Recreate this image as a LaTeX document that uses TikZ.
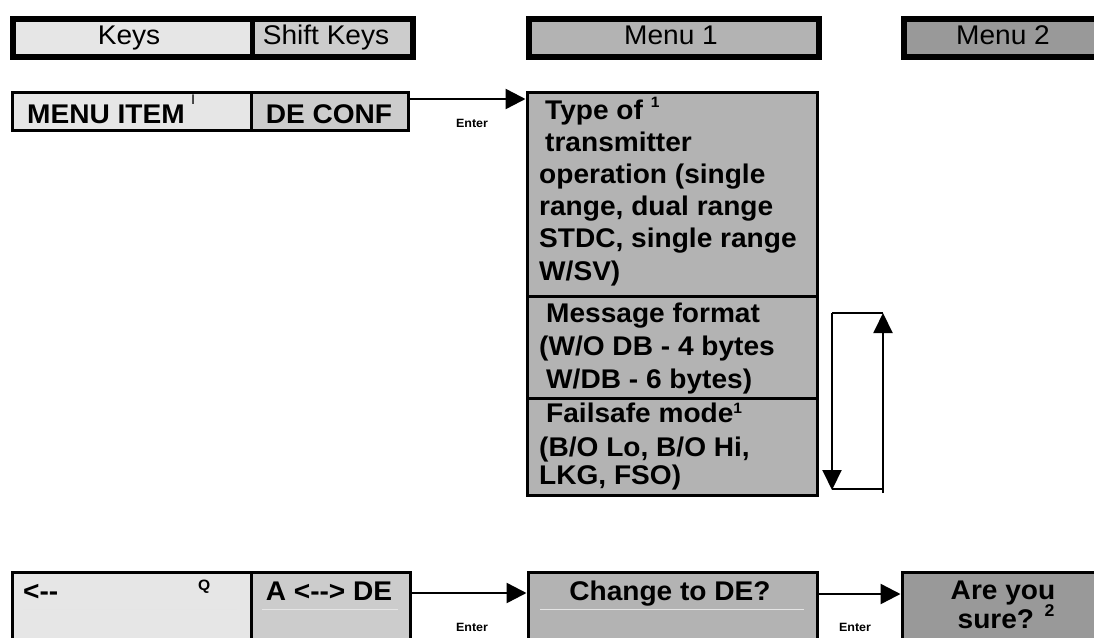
\documentclass[tikz,border=0pt]{standalone}
\usepackage{fontspec}
\setmainfont[FakeStretch=1.04]{Liberation Sans}
\usetikzlibrary{arrows.meta}
\definecolor{gA}{HTML}{E6E6E6}
\definecolor{gB}{HTML}{CCCCCC}
\definecolor{gC}{HTML}{B3B3B3}
\definecolor{gD}{HTML}{999999}
\newcommand\fmain{\fontsize{27}{30}\selectfont}
\newcommand\fenter{\fontsize{12}{14}\selectfont\bfseries}
\newcommand\fsupx{\fontsize{15}{16}\selectfont}
\begin{document}
\begin{tikzpicture}[x=1pt,y=-1pt,
  hdr/.style={draw=black, line width=5.5pt, minimum height=38pt, anchor=north west, inner sep=0pt},
  cell/.style={draw=black, line width=3pt, anchor=north west, inner sep=0pt},
  txt/.style={inner sep=0pt, text=black},
  arr/.style={line width=2.5pt, -{Triangle[length=20pt,width=20pt]}},
  loopline/.style={line width=2pt},
  looparr/.style={line width=2pt, -{Triangle[length=20pt,width=19pt]}},
  faint/.style={line width=0.8pt, draw=black!10}
]
\useasboundingbox (0,0) rectangle (1094,637);

% header row
\node[hdr, fill=gA, minimum width=239.5pt] (hkeys) at (10,16) {};
\node[hdr, fill=gB, minimum width=160.5pt] (hshift) at (249.5,16) {};
\node[hdr, fill=gC, minimum width=290pt] (hmenu1) at (526,16) {};
\node[hdr, fill=gD, minimum width=209pt] (hmenu2) at (901,16) {};
\node[txt, anchor=base] (tkeys) at (129,44) {\fmain Keys};
\node[txt, anchor=base] (tshift) at (326,44) {\fmain Shift Keys};
\node[txt, anchor=base] (tmenu1) at (671,44) {\fmain Menu 1};
\node[txt, anchor=base] (tmenu2) at (1003,44) {\fmain Menu 2};

% row 2
\node[cell, fill=gA, minimum width=239pt, minimum height=38pt] (menuitem) at (10.5,90.5) {};
\node[cell, fill=gB, minimum width=157pt, minimum height=38pt] (deconf) at (249.5,90.5) {};
\node[txt, anchor=base west] (tmenuitem) at (27,123) {\fmain\bfseries MENU ITEM};
\node[txt, anchor=base west] (tsupI) at (191,104) {\fontsize{14}{14}\selectfont I};
\node[txt, anchor=base] (tdeconf) at (329,123) {\fmain\bfseries DE CONF};

% menu 1 column
\node[cell, fill=gC, minimum width=290pt, minimum height=204.5pt] (typeof) at (525.5,90.5) {};
\node[cell, fill=gC, minimum width=290pt, minimum height=101.5pt] (msgfmt) at (525.5,295) {};
\node[cell, fill=gC, minimum width=290pt, minimum height=97pt] (failsafe) at (525.5,396.5) {};

\node[txt, anchor=base west] (l1) at (545,119) {\fmain\bfseries Type of \raisebox{12pt}{\fsupx 1}};
\node[txt, anchor=base west] (l2) at (545,151.2) {\fmain\bfseries transmitter};
\node[txt, anchor=base west] (l3) at (539,183.4) {\fmain\bfseries operation (single};
\node[txt, anchor=base west] (l4) at (539,215.6) {\fmain\bfseries range, dual range};
\node[txt, anchor=base west] (l5) at (539,247.8) {\fmain\bfseries STDC, single range};
\node[txt, anchor=base west] (l6) at (539,280) {\fmain\bfseries W/SV)};
\node[txt, anchor=base west] (m1) at (546,322) {\fmain\bfseries Message format};
\node[txt, anchor=base west] (m2) at (539,355) {\fmain\bfseries (W/O DB - 4 bytes};
\node[txt, anchor=base west] (m3) at (546,388) {\fmain\bfseries W/DB - 6 bytes)};
\node[txt, anchor=base west] (f1) at (546,422) {\fmain\bfseries Failsafe mode\raisebox{9pt}{\fsupx 1}};
\node[txt, anchor=base west] (f2) at (539,456) {\fmain\bfseries (B/O Lo, B/O Hi,};
\node[txt, anchor=base west] (f3) at (539,484) {\fmain\bfseries LKG, FSO)};

% arrow row 2
\draw[arr] ([yshift=-8.5pt]deconf.north east) -- ([yshift=-8.5pt]typeof.north west);
\node[txt, anchor=base] (enter1) at (472,127) {\fenter Enter};

% loop arrows
\coordinate (lt) at (832,313);
\coordinate (rt) at (883,313);
\coordinate (lb) at (832,490);
\coordinate (rb) at (883,489);
\coordinate (rbb) at (883,493);
\coordinate (lbb) at (832,489);
\draw[loopline] (lt) -- (rt);
\draw[loopline] (lbb) -- (rb);
\draw[looparr] (lt) -- (lb);
\draw[looparr] (rbb) -- (rt);

% bottom row
\node[cell, fill=gA, minimum width=239.5pt, minimum height=100pt] (back) at (10.5,570.5) {};
\node[cell, fill=gB, minimum width=158.5pt, minimum height=100pt] (swap) at (250,570.5) {};
\node[cell, fill=gC, minimum width=289pt, minimum height=100pt] (change) at (526.5,570.5) {};
\node[cell, fill=gD, minimum width=210pt, minimum height=100pt] (sure) at (900.5,570.5) {};

\draw[faint] (23,609) -- (237,609);
\draw[faint] (262,609) -- (398,609);
\draw[faint] (540,609) -- (804,609);

\node[txt, anchor=base west] (tback) at (23,600) {\fmain\bfseries <-\kern0pt-};
\node[txt, anchor=base west] (tq) at (198,590) {\fontsize{15}{15}\selectfont\bfseries Q};
\node[txt, anchor=base] (tswap) at (329,600) {\fmain\bfseries A <-\kern0pt-> DE};
\node[txt, anchor=base] (tchange) at (670,600) {\fmain\bfseries Change to DE?};
\node[txt, anchor=base] (tare) at (1003,599) {\fmain\bfseries Are you};
\node[txt, anchor=base] (tsure) at (1006,628) {\fmain\bfseries sure? \raisebox{12pt}{\fontsize{17}{18}\selectfont 2}};

\draw[arr] ([yshift=-22.5pt]swap.north east) -- ([yshift=-22.5pt]change.north west);
\draw[arr] ([yshift=-23.5pt]change.north east) -- ([yshift=-23.5pt]sure.north west);
\node[txt, anchor=base] (enter2) at (472,631) {\fenter Enter};
\node[txt, anchor=base] (enter3) at (855,631) {\fenter Enter};
\end{tikzpicture}
\end{document}
